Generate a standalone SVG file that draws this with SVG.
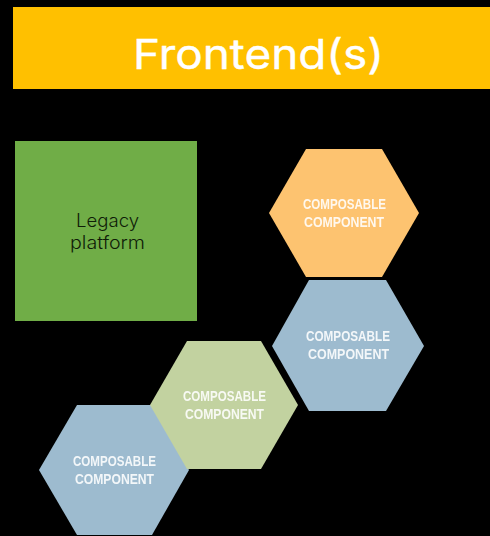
<svg xmlns="http://www.w3.org/2000/svg" width="490" height="536" viewBox="0 0 490 536">
<defs><filter id="soft" x="-5%" y="-20%" width="110%" height="140%"><feGaussianBlur stdDeviation="0.5"/></filter></defs>
<style>
.hex{stroke:none;filter:url(#soft)}
.hl{font-family:"Liberation Sans",sans-serif;font-size:15.5px;font-weight:700;fill:#fff;fill-opacity:.88;filter:url(#soft)}
.title{font-family:Inter,"Open Sans",sans-serif;font-size:41px;font-weight:400;fill:#fff;stroke:#fff;stroke-width:.4}
.leg{font-family:Inter,"Open Sans",sans-serif;font-size:18px;font-weight:300;fill:#0f1c07}
</style>
<rect width="490" height="536" fill="#000"/>
<g id="banner"><rect x="13" y="7" width="477" height="82" fill="#ffc000"/><text class="title" x="133" y="69" textLength="251" lengthAdjust="spacingAndGlyphs">Frontend(s)</text></g>
<g id="legacy"><rect x="15" y="141" width="182" height="180" fill="#70ad47"/><text class="leg" x="76" y="227" textLength="63" lengthAdjust="spacingAndGlyphs">Legacy</text><text class="leg" x="70" y="249" textLength="75" lengthAdjust="spacingAndGlyphs">platform</text></g>
<g id="hex-orange"><polygon class="hex" fill="#fdc36f" points="269,213 306,149 382,149 419,213 382,277 306,277"/><text class="hl" x="303" y="209" textLength="83" lengthAdjust="spacingAndGlyphs">COMPOSABLE</text><text class="hl" x="304" y="227" textLength="80" lengthAdjust="spacingAndGlyphs">COMPONENT</text></g>
<g id="hex-blue-2"><polygon class="hex" fill="#9dbbcf" points="272,346 309,280 386,280 424,346 386,411 309,411"/><text class="hl" x="306" y="341" textLength="84" lengthAdjust="spacingAndGlyphs">COMPOSABLE</text><text class="hl" x="308" y="359" textLength="81" lengthAdjust="spacingAndGlyphs">COMPONENT</text></g>
<g id="hex-blue-1"><polygon class="hex" fill="#9dbbcf" points="39,470 77,405 152,405 189,470 152,535 77,535"/><text class="hl" x="73" y="466" textLength="83" lengthAdjust="spacingAndGlyphs">COMPOSABLE</text><text class="hl" x="75" y="484" textLength="79" lengthAdjust="spacingAndGlyphs">COMPONENT</text></g>
<g id="hex-green"><polygon class="hex" fill="#c2d2a0" points="150,405 187,341 261,341 298,405 261,469 187,469"/><text class="hl" x="183" y="401" textLength="83" lengthAdjust="spacingAndGlyphs">COMPOSABLE</text><text class="hl" x="185" y="419" textLength="79" lengthAdjust="spacingAndGlyphs">COMPONENT</text></g>
</svg>
